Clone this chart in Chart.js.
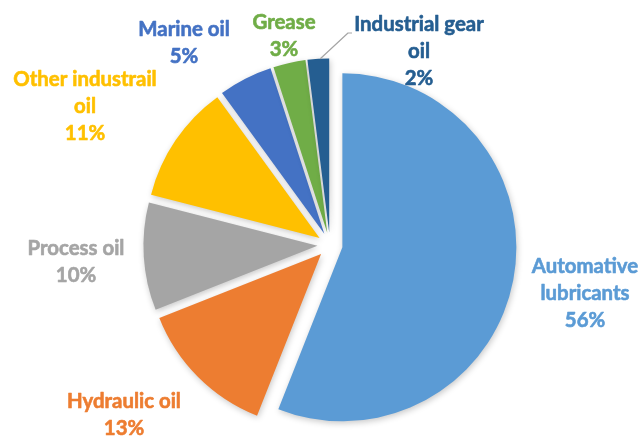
<!DOCTYPE html>
<html>
<head>
<meta charset="utf-8">
<script src="https://cdn.jsdelivr.net/npm/chart.js@4/dist/chart.umd.min.js"></script>
<style>
  body { margin: 0; background: #fff; }
  #chart { display: block; }
</style>
</head>
<body>
<canvas id="chart" width="643" height="436"></canvas>
<script>
const categories = ['Automative lubricants', 'Hydraulic oil', 'Process oil', 'Other industrail oil', 'Marine oil', 'Grease', 'Industrial gear oil'];
const shares = [56, 13, 10, 11, 5, 3, 2];
const sliceColors = ['#5B9BD5', '#ED7D31', '#A5A5A5', '#FFC000', '#4472C4', '#70AD47', '#255E91'];

// label placement relative to the pie centre: [dx, first baseline dy]
const labelSpots = [[255, 28], [-206, 163], [-254, 10], [-245, -159], [-146, -209], [-46, -216], [89, -214]];
const explode = 12.6;
const lineGap = 27.2;

function splitLabel(name) {
  if (name.length <= 14) return [name];
  const i = name.lastIndexOf(' ');
  return [name.slice(0, i), name.slice(i + 1)];
}

// push every slice out along its own bisector, like Excel's exploded pie
const explodePlugin = {
  id: 'explode',
  afterDatasetsUpdate(chart) {
    chart.getDatasetMeta(0).data.forEach(arc => {
      const mid = (arc.startAngle + arc.endAngle) / 2;
      arc.x += Math.cos(mid) * explode;
      arc.y += Math.sin(mid) * explode;
    });
  },
  beforeDatasetsDraw(chart) {
    const c = chart.ctx;
    c.save();
    c.shadowColor = 'rgba(0,0,0,0.22)';
    c.shadowBlur = 6;
    c.shadowOffsetX = 1;
    c.shadowOffsetY = 2;
  },
  afterDatasetsDraw(chart) {
    chart.ctx.restore();
  }
};

const labelPlugin = {
  id: 'sliceLabels',
  afterDraw(chart) {
    const c = chart.ctx;
    const arcs = chart.getDatasetMeta(0).data;
    const cx = (chart.chartArea.left + chart.chartArea.right) / 2;
    const cy = (chart.chartArea.top + chart.chartArea.bottom) / 2;
    c.save();
    c.font = 'bold 20.4px Lato';
    c.textAlign = 'center';
    c.textBaseline = 'alphabetic';
    c.lineWidth = 0.6;
    c.lineJoin = 'round';
    categories.forEach((name, i) => {
      const lines = splitLabel(name).concat([shares[i] + '%']);
      const x = cx + labelSpots[i][0];
      const y = cy + labelSpots[i][1];
      c.fillStyle = sliceColors[i];
      c.strokeStyle = sliceColors[i];
      lines.forEach((t, k) => {
        c.fillText(t, x, y + k * lineGap);
        c.strokeText(t, x, y + k * lineGap);
      });
    });

    // leader line for the thin slice
    const last = arcs[arcs.length - 1];
    const mid = (last.startAngle + last.endAngle) / 2;
    const sx = last.x + Math.cos(mid) * last.outerRadius;
    const sy = last.y + Math.sin(mid) * last.outerRadius;
    const lx = cx + labelSpots[6][0];
    const ly = cy + labelSpots[6][1];
    c.strokeStyle = '#A5A5A5';
    c.lineWidth = 1.2;
    c.beginPath();
    c.moveTo(sx + 2, sy);
    c.lineTo(lx - 71, ly + 2);
    c.lineTo(lx - 67, ly + 2);
    c.stroke();
    c.restore();
  }
};

new Chart(document.getElementById('chart'), {
  type: 'pie',
  data: {
    labels: categories,
    datasets: [{
      data: shares,
      backgroundColor: sliceColors,
      borderWidth: 0,
      radius: 174
    }]
  },
  options: {
    responsive: false,
    animation: false,
    layout: { padding: { left: 17, right: 0, top: 54, bottom: 0 } },
    plugins: {
      legend: { display: false },
      tooltip: { enabled: false }
    }
  },
  plugins: [explodePlugin, labelPlugin]
});
</script>
</body>
</html>
